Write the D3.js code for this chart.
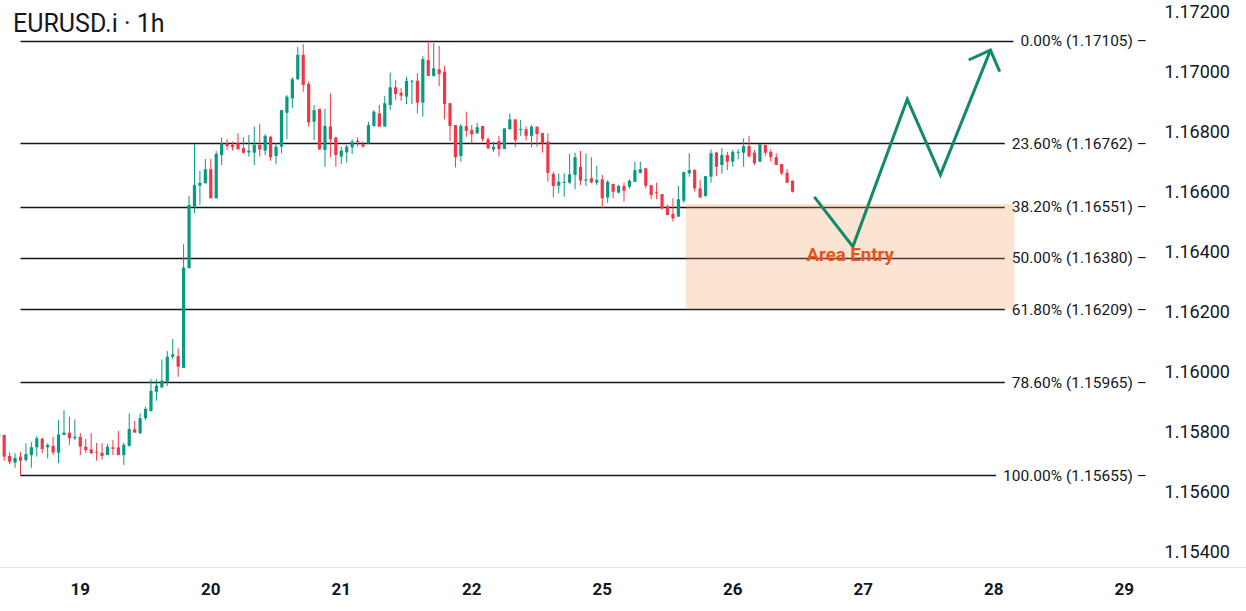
<!DOCTYPE html>
<html>
<head>
<meta charset="utf-8">
<script src="https://d3js.org/d3.v7.min.js"></script>
<style>
  body { margin: 0; background: #fff; }
  text { font-family: Roboto, "Noto Sans", sans-serif; fill: #131722; }
</style>
</head>
<body>
<svg id="chart" width="1246" height="611"></svg>
<script>
// hourly candles, first one sits at hour -15 (hour 0 = day 19, 00:00)
var firstHour = -15;
var opens = [1.15783,1.15790,1.15720,1.15698,1.15718,1.15707,1.15723,1.15749,1.15777,1.15749,1.15754,1.15731,1.15790,1.15798,1.15779,1.15784,1.15751,1.15742,1.15734,1.15731,1.15723,1.15749,1.15749,1.15723,1.15754,1.15809,1.15796,1.15846,1.15870,1.15934,1.15949,1.15968,1.16051,1.16053,1.16014,1.16346,1.16551,1.16621,1.16629,1.16676,1.16579,1.16723,1.16762,1.16757,1.16762,1.16746,1.16732,1.16731,1.16757,1.16738,1.16784,1.16720,1.16751,1.16864,1.16912,1.16976,1.17057,1.16960,1.16834,1.16877,1.16740,1.16818,1.16782,1.16718,1.16732,1.16749,1.16771,1.16759,1.16762,1.16820,1.16862,1.16818,1.16890,1.16949,1.16931,1.16918,1.16968,1.16971,1.16898,1.17040,1.16987,1.17009,1.17001,1.16896,1.16823,1.16720,1.16820,1.16807,1.16796,1.16820,1.16776,1.16742,1.16770,1.16743,1.16809,1.16842,1.16807,1.16809,1.16787,1.16818,1.16796,1.16768,1.16660,1.16621,1.16631,1.16631,1.16657,1.16684,1.16638,1.16646,1.16631,1.16642,1.16582,1.16627,1.16598,1.16620,1.16618,1.16634,1.16664,1.16679,1.16623,1.16599,1.16593,1.16553,1.16527,1.16518,1.16571,1.16662,1.16673,1.16612,1.16587,1.16651,1.16731,1.16690,1.16723,1.16701,1.16731,1.16731,1.16753,1.16731,1.16701,1.16757,1.16734,1.16716,1.16693,1.16664,1.16638];
var highs = [1.15792,1.15792,1.15733,1.15729,1.15733,1.15762,1.15766,1.15787,1.15781,1.15762,1.15784,1.15840,1.15873,1.15851,1.15842,1.15796,1.15777,1.15796,1.15764,1.15762,1.15760,1.15773,1.15804,1.15764,1.15862,1.15837,1.15862,1.15884,1.15976,1.15976,1.16042,1.16070,1.16110,1.16079,1.16426,1.16587,1.16760,1.16671,1.16710,1.16710,1.16737,1.16782,1.16776,1.16768,1.16796,1.16782,1.16790,1.16818,1.16827,1.16793,1.16787,1.16762,1.16873,1.16923,1.16982,1.17084,1.17093,1.16968,1.16890,1.16877,1.16877,1.16929,1.16782,1.16751,1.16757,1.16776,1.16782,1.16768,1.16834,1.16873,1.16890,1.16920,1.16998,1.16973,1.16946,1.16984,1.16973,1.16996,1.17053,1.17105,1.17096,1.17087,1.17020,1.16896,1.16823,1.16827,1.16868,1.16823,1.16831,1.16820,1.16782,1.16768,1.16787,1.16812,1.16862,1.16842,1.16840,1.16818,1.16823,1.16818,1.16798,1.16796,1.16668,1.16662,1.16662,1.16727,1.16731,1.16737,1.16729,1.16716,1.16687,1.16657,1.16640,1.16627,1.16623,1.16631,1.16642,1.16701,1.16701,1.16679,1.16623,1.16631,1.16593,1.16557,1.16579,1.16620,1.16668,1.16729,1.16676,1.16640,1.16653,1.16742,1.16734,1.16746,1.16734,1.16740,1.16742,1.16779,1.16787,1.16740,1.16760,1.16757,1.16742,1.16729,1.16693,1.16676,1.16638];
var lows = [1.15780,1.15704,1.15693,1.15681,1.15655,1.15701,1.15681,1.15718,1.15729,1.15712,1.15723,1.15696,1.15790,1.15757,1.15773,1.15723,1.15731,1.15727,1.15704,1.15707,1.15723,1.15723,1.15723,1.15690,1.15751,1.15798,1.15793,1.15840,1.15868,1.15904,1.15946,1.15953,1.16043,1.15984,1.16014,1.16346,1.16529,1.16557,1.16629,1.16579,1.16579,1.16690,1.16740,1.16738,1.16742,1.16727,1.16718,1.16690,1.16718,1.16723,1.16704,1.16693,1.16729,1.16776,1.16879,1.16973,1.16934,1.16818,1.16773,1.16740,1.16684,1.16716,1.16684,1.16693,1.16698,1.16727,1.16751,1.16749,1.16762,1.16818,1.16818,1.16818,1.16873,1.16907,1.16904,1.16893,1.16893,1.16862,1.16851,1.16987,1.16984,1.16953,1.16842,1.16770,1.16682,1.16701,1.16784,1.16762,1.16793,1.16768,1.16742,1.16734,1.16718,1.16743,1.16809,1.16749,1.16787,1.16771,1.16749,1.16751,1.16731,1.16634,1.16582,1.16596,1.16584,1.16627,1.16609,1.16623,1.16620,1.16629,1.16623,1.16546,1.16564,1.16579,1.16596,1.16568,1.16612,1.16634,1.16662,1.16612,1.16576,1.16576,1.16540,1.16523,1.16501,1.16518,1.16564,1.16651,1.16601,1.16579,1.16584,1.16631,1.16653,1.16662,1.16673,1.16684,1.16709,1.16684,1.16716,1.16690,1.16701,1.16720,1.16701,1.16690,1.16657,1.16629,1.16598];
var closes = [1.15790,1.15718,1.15701,1.15714,1.15704,1.15726,1.15749,1.15779,1.15743,1.15757,1.15732,1.15792,1.15798,1.15779,1.15784,1.15751,1.15740,1.15729,1.15731,1.15720,1.15751,1.15744,1.15723,1.15757,1.15810,1.15798,1.15846,1.15877,1.15937,1.15954,1.15971,1.16051,1.16059,1.16018,1.16348,1.16557,1.16623,1.16631,1.16676,1.16579,1.16727,1.16762,1.16753,1.16749,1.16742,1.16731,1.16738,1.16757,1.16742,1.16787,1.16716,1.16751,1.16873,1.16918,1.16976,1.17057,1.16957,1.16832,1.16873,1.16742,1.16820,1.16776,1.16723,1.16738,1.16751,1.16768,1.16767,1.16751,1.16823,1.16868,1.16818,1.16896,1.16949,1.16927,1.16921,1.16970,1.16971,1.16898,1.17043,1.16987,1.17012,1.16993,1.16893,1.16820,1.16716,1.16820,1.16804,1.16792,1.16816,1.16776,1.16746,1.16751,1.16743,1.16812,1.16842,1.16773,1.16810,1.16787,1.16818,1.16793,1.16762,1.16664,1.16620,1.16634,1.16634,1.16659,1.16716,1.16638,1.16642,1.16632,1.16640,1.16579,1.16634,1.16601,1.16620,1.16604,1.16638,1.16673,1.16676,1.16621,1.16590,1.16596,1.16546,1.16523,1.16512,1.16576,1.16666,1.16673,1.16612,1.16582,1.16653,1.16729,1.16684,1.16723,1.16701,1.16734,1.16734,1.16753,1.16718,1.16696,1.16759,1.16731,1.16716,1.16690,1.16662,1.16631,1.16601];

var dayLabels = ["19","20","21","22","25","26","27","28","29"];
var priceTicks = [1.154,1.156,1.158,1.160,1.162,1.164,1.166,1.168,1.170,1.172];

var fibLevels = ["0.00%","23.60%","38.20%","50.00%","61.80%","78.60%","100.00%"];
var fibPrices = [1.17105,1.16762,1.16551,1.16380,1.16209,1.15965,1.15655];

// entry zone + projected path
var zoneHours = [111.4, 171.8];
var zonePrices = [1.16560, 1.16209];
var pathHours = [135.0, 142.1, 152.1, 158.2, 167.4];
var pathPrices = [1.16584, 1.16418, 1.16909, 1.16657, 1.17073];
var headHours = [163.4, 167.4, 169.1];
var headPrices = [1.17040, 1.17073, 1.17001];

var upColor = "#089981", downColor = "#f23645";

var svg = d3.select("#chart");

var x = d3.scaleLinear().domain([0, 192]).range([80.3, 1124.2]);
var y = d3.scaleLinear().domain([1.154, 1.172]).range([552, 12]);

// time axis separator
svg.append("line")
  .attr("x1", 0).attr("x2", 1246)
  .attr("y1", 567.5).attr("y2", 567.5)
  .attr("stroke", "#e0e3eb").attr("stroke-width", 1);

// day labels
svg.selectAll(".day")
  .data(dayLabels)
  .enter().append("text")
    .attr("class", "day")
    .attr("x", function(d, i) { return x(i * 24); })
    .attr("y", 595)
    .attr("text-anchor", "middle")
    .attr("font-size", 17)
    .attr("font-weight", "bold")
    .text(function(d) { return d; });

// price axis
var yAxis = d3.axisRight(y).tickValues(priceTicks).tickFormat(d3.format(".5f")).tickSize(0);
var ya = svg.append("g").attr("transform", "translate(1230,0)").call(yAxis);
ya.select(".domain").remove();
ya.selectAll("text")
  .attr("x", 0)
  .attr("text-anchor", "end")
  .attr("font-size", 18)
  .attr("font-family", "Roboto, sans-serif")
  .attr("fill", "#131722");

// fib labels first so lines can stop just before them
var fib = svg.selectAll(".fib")
  .data(fibPrices)
  .enter().append("g")
    .attr("class", "fib");

fib.append("text")
  .attr("x", 1147)
  .attr("y", function(d) { return y(d); })
  .attr("dy", "0.35em")
  .attr("text-anchor", "end")
  .attr("font-size", 15.5)
  .text(function(d, i) { return fibLevels[i] + " (" + d.toFixed(5) + ") \u2013"; });

fib.each(function(d) {
  var g = d3.select(this);
  var w = g.select("text").node().getComputedTextLength();
  g.append("line")
    .attr("x1", x(-11))
    .attr("x2", 1147 - w - 7)
    .attr("y1", Math.round(y(d)) + 0.5)
    .attr("y2", Math.round(y(d)) + 0.5)
    .attr("stroke", "#131722")
    .attr("stroke-width", 1.3);
});

// candles
var candles = svg.append("g");
var cw = 3.2;
opens.forEach(function(o, i) {
  var h = firstHour + i;
  var c = closes[i];
  var col = c >= o ? upColor : downColor;
  var cx = x(h);
  candles.append("line")
    .attr("x1", cx).attr("x2", cx)
    .attr("y1", y(highs[i])).attr("y2", y(lows[i]))
    .attr("stroke", col).attr("stroke-width", 1);
  var top = y(Math.max(o, c)), bot = y(Math.min(o, c));
  candles.append("rect")
    .attr("x", cx - cw / 2)
    .attr("y", top)
    .attr("width", cw)
    .attr("height", Math.max(1, bot - top))
    .attr("fill", col);
});

// entry zone
svg.append("rect")
  .attr("x", x(zoneHours[0]))
  .attr("y", y(zonePrices[0]))
  .attr("width", x(zoneHours[1]) - x(zoneHours[0]))
  .attr("height", y(zonePrices[1]) - y(zonePrices[0]))
  .attr("fill", "rgb(242,150,80)")
  .attr("fill-opacity", 0.26);

// projected move
var line = d3.line()
  .x(function(d) { return x(d[0]); })
  .y(function(d) { return y(d[1]); });

svg.append("path")
  .datum(d3.zip(pathHours, pathPrices))
  .attr("d", line)
  .attr("fill", "none")
  .attr("stroke", "#11896b")
  .attr("stroke-width", 3);

svg.append("path")
  .datum(d3.zip(headHours, headPrices))
  .attr("d", line)
  .attr("fill", "none")
  .attr("stroke", "#11896b")
  .attr("stroke-width", 3);

svg.append("text")
  .attr("x", x(141.6))
  .attr("y", y(1.16380) + 3)
  .attr("text-anchor", "middle")
  .attr("font-size", 18.6)
  .attr("font-weight", "bold")
  .style("fill", "#e8521c")
  .text("Area Entry");

// title
svg.append("text")
  .attr("x", 13)
  .attr("y", 32)
  .attr("font-size", 25)
  .text("EURUSD.i \u00b7 1h");
</script>
</body>
</html>
